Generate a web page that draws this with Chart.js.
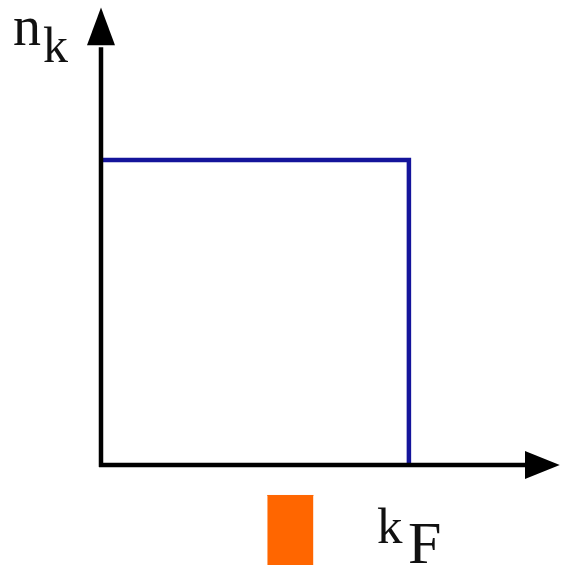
<!DOCTYPE html>
<html>
<head>
<meta charset="utf-8">
<script src="https://cdn.jsdelivr.net/npm/chart.js@4/dist/chart.umd.min.js"></script>
<style>
  html, body { margin: 0; padding: 0; background: #fff; }
  canvas { display: block; }
</style>
</head>
<body>
<canvas id="fermi-chart" width="561" height="565"></canvas>
<script>
// occupation n_k at T = 0: step at k_F
const kValues = [0, 1, 1];
const nValues = [1, 1, 0];

// orange marker below the axis near k_F / 2
const markerK = [0.54, 0.69];
const markerN = [-0.1, -0.1];

const axisLabels = { y: ['n', 'k'], x: ['k', 'F'] };

const arrowAxesPlugin = {
    id: 'arrowAxes',
    afterDatasetsDraw(chart) {
        const ctx = chart.ctx;
        const xs = chart.scales.x, ys = chart.scales.y;
        const x0 = xs.getPixelForValue(0), y0 = ys.getPixelForValue(0);
        const xEnd = xs.getPixelForValue(1.377), xTip = xs.getPixelForValue(1.49);
        const yEnd = ys.getPixelForValue(1.377), yTip = ys.getPixelForValue(1.50);
        ctx.save();
        ctx.strokeStyle = '#000';
        ctx.fillStyle = '#000';
        ctx.lineWidth = 4.5;
        ctx.beginPath();
        ctx.moveTo(x0, y0 + 2);
        ctx.lineTo(x0, yEnd + 2);
        ctx.moveTo(x0 - 2, y0);
        ctx.lineTo(xEnd + 2, y0);
        ctx.stroke();
        // arrow heads
        ctx.beginPath();
        ctx.moveTo(x0, yTip);
        ctx.lineTo(x0 - 14, yEnd);
        ctx.lineTo(x0 + 14, yEnd);
        ctx.closePath();
        ctx.fill();
        ctx.beginPath();
        ctx.moveTo(xTip, y0);
        ctx.lineTo(xEnd, y0 - 14);
        ctx.lineTo(xEnd, y0 + 14);
        ctx.closePath();
        ctx.fill();
        // labels
        ctx.fillStyle = '#111';
        ctx.textBaseline = 'alphabetic';
        ctx.textAlign = 'left';
        ctx.font = '56px "Liberation Serif"';
        ctx.fillText(axisLabels.y[0], x0 - 88, 45);
        ctx.font = '50px "Liberation Serif"';
        ctx.fillText(axisLabels.y[1], x0 - 58, 62);
        const kF = xs.getPixelForValue(1);
        ctx.font = '51px "Liberation Serif"';
        ctx.fillText(axisLabels.x[0], kF - 32, 543);
        ctx.font = '60px "Liberation Serif"';
        ctx.fillText(axisLabels.x[1], kF - 1, 563);
        ctx.restore();
    }
};

const ctx = document.getElementById('fermi-chart').getContext('2d');
new Chart(ctx, {
    type: 'line',
    data: {
        datasets: [{
            label: 'n_k',
            data: kValues.map((k, i) => ({ x: k, y: nValues[i] })),
            borderColor: '#14149b',
            borderWidth: 4.5,
            pointRadius: 0,
            fill: false,
            tension: 0
        }, {
            label: 'marker',
            data: markerK.map((k, i) => ({ x: k, y: markerN[i] })),
            borderColor: '#ff6600',
            backgroundColor: '#ff6600',
            borderWidth: 1,
            pointRadius: 0,
            fill: { value: -0.5 }
        }]
    },
    options: {
        responsive: false,
        devicePixelRatio: 1,
        animation: false,
        layout: { padding: 0 },
        plugins: {
            legend: { display: false },
            tooltip: { enabled: false }
        },
        scales: {
            x: { type: 'linear', min: -0.328, max: 1.494, display: false },
            y: { type: 'linear', min: -0.328, max: 1.525, display: false }
        }
    },
    plugins: [arrowAxesPlugin]
});
</script>
</body>
</html>
